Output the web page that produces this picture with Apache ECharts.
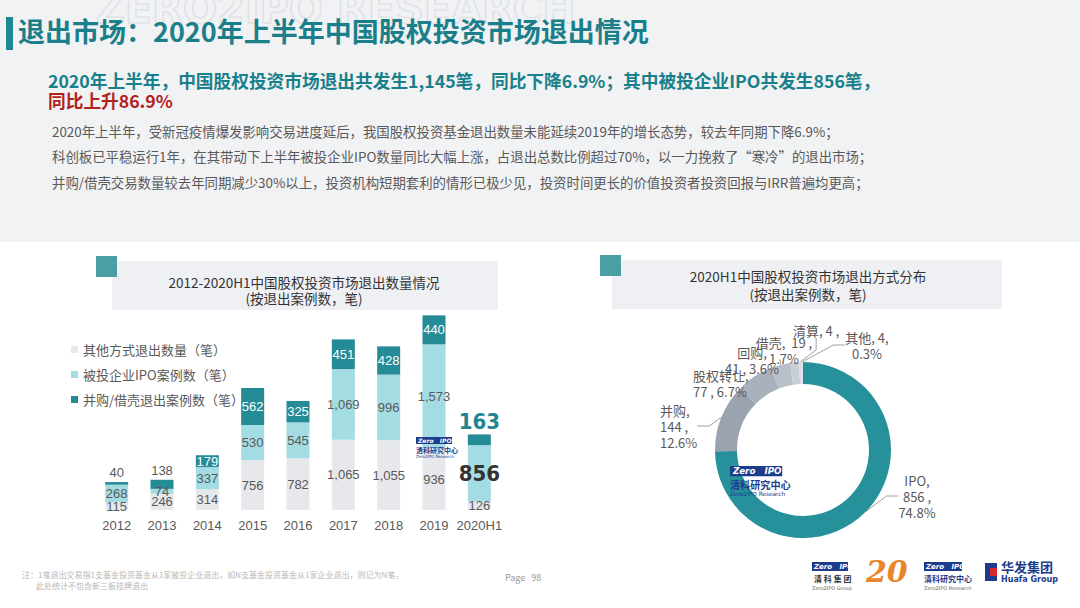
<!DOCTYPE html>
<html><head><meta charset="utf-8">
<script src="https://cdn.jsdelivr.net/npm/echarts@6/dist/echarts.min.js"></script>
<style>html,body{margin:0;padding:0;background:#fff}#c{width:1080px;height:608px}</style>
</head><body><div id="c"></div>
<script>
const categories = ['2012','2013','2014','2015','2016','2017','2018','2019','2020H1'];
const otherExits = [115,246,314,756,782,1065,1055,936,126];
const ipoExits = [268,74,337,530,545,1069,996,1573,856];
const maExits = [40,138,179,562,325,451,428,440,163];
const seriesNames = ['其他方式退出数量（笔）','被投企业IPO案例数（笔）','并购/借壳退出案例数（笔）'];
const pieNames = ['IPO','并购','股权转让','回购','借壳','清算','其他'];
const pieValues = [856,144,77,41,19,4,4];

const CJK = "'Noto Sans CJK SC','Microsoft YaHei',sans-serif";
const NUM = "'Liberation Sans',Arial,sans-serif";
const NARROW = "'Liberation Sans Narrow','DejaVu Sans Condensed',sans-serif";
const TEAL = '#258b96';
const pieColors = ['#26909b','#9aa3af','#a9b1bc','#b8bfc9','#c8ced6','#d6dbe1','#dde1e6'];

const total = pieValues.reduce((a,b)=>a+b,0);
const pct = v => (v/total*100).toFixed(1) + '%';
const fmt = v => v.toLocaleString('en-US');
const pieLabelText = [
  (n,v)=>`${n},\n${v} ,\n${pct(v)}`,
  (n,v)=>`${n},\n${v} ,\n${pct(v)}`,
  (n,v)=>`${n},\n${v} , ${pct(v)}`,
  (n,v)=>`${n},\n${v} , ${pct(v)}`,
  (n,v)=>`${n},  ${v} ,\n${pct(v)}`,
  (n,v)=>`${n}, ${v} ,`,
  (n,v)=>`${n}, ${v},\n${pct(v)}`
];
// label placement (text anchor x, top y, alignment) for the donut's crowded labels
const pieLabelPlace = [
  [917,472,'center'],
  [660,402,'left'],
  [693,367,'left'],
  [752,344,'center'],
  [784,334,'center'],
  [793,322,'left'],
  [867,329,'center']
];

const otherData = otherExits.map(v=>({value:v}));
const ipoData = ipoExits.map((v,i)=> i===8 ? {value:v,label:{fontSize:22,fontWeight:'bold',color:'#333',fontFamily:NARROW}} : {value:v});
const maData = maExits.map((v,i)=>{
  if(i<2) return {value:v,label:{position:'top',color:'#595959',distance:3}};
  if(i===8) return {value:v,label:{position:'top',fontSize:22,fontWeight:'bold',color:'#1f8591',fontFamily:NARROW,distance:2}};
  return {value:v};
});
const barLabel = (color) => ({show:true,position:'inside',color:color,fontSize:13,fontFamily:NUM,formatter:p=>fmt(p.value)});

function logo(x, y, s, top) {
  const z = top ? 100 : 1;
  return [
    {type:'rect',z:z,shape:{x:x,y:y,width:36*s,height:7*s},style:{fill:'#1d3c8c'}},
    {type:'text',z:z+1,x:x+2*s,y:y,style:{text:'Zero   IPO',font:`italic bold ${6*s}px DejaVu Sans`,fill:'#fff'}},
    {type:'text',z:z,x:x,y:y+9*s,style:{text:'清科研究中心',font:`bold ${7*s}px ${CJK}`,fill:'#1d3c8c'}},
    {type:'text',z:z,x:x,y:y+17*s,style:{text:'Zero2IPO Research',font:`${4*s}px DejaVu Sans`,fill:'#1d3c8c'}}
  ];
}

const chart = echarts.init(document.getElementById('c'), null, {renderer:'svg'});
const option = {
  animation:false,
  backgroundColor:'#ffffff',
  textStyle:{fontFamily:CJK},
  graphic:{elements:[
    {type:'rect',shape:{x:0,y:0,width:1080,height:242},style:{fill:'#f1f2f4'},z:-10},
    {type:'text',left:95,top:-12,style:{text:'ZERO2IPO RESEARCH',font:'bold 40px DejaVu Sans',fill:'rgba(0,0,0,0)',stroke:'#dfe2e6',lineWidth:1.5},z:-9},
    {type:'rect',shape:{x:6,y:17,width:7,height:33},style:{fill:'#1d8792'}},
    {type:'text',left:18,top:17,style:{text:'退出市场：2020年上半年中国股权投资市场退出情况',font:'bold 27px '+CJK,fill:'#1b7f8a'}},
    {type:'text',left:48,top:71,style:{text:'2020年上半年，中国股权投资市场退出共发生1,145笔，同比下降6.9%；其中被投企业IPO共发生856笔，',font:'bold 17.7px '+CJK,fill:'#18808a'}},
    {type:'text',left:48,top:91,style:{text:'同比上升86.9%',font:'bold 17.7px '+CJK,fill:'#b1221d'}},
    {type:'text',left:52,top:124,style:{text:'2020年上半年，受新冠疫情爆发影响交易进度延后，我国股权投资基金退出数量未能延续2019年的增长态势，较去年同期下降6.9%；',font:'13.4px '+CJK,fill:'#595959'}},
    {type:'text',left:52,top:149,style:{text:'科创板已平稳运行1年，在其带动下上半年被投企业IPO数量同比大幅上涨，占退出总数比例超过70%，以一力挽救了“寒冷”的退出市场；',font:'13.4px '+CJK,fill:'#595959'}},
    {type:'text',left:52,top:175,style:{text:'并购/借壳交易数量较去年同期减少30%以上，投资机构短期套利的情形已极少见，投资时间更长的价值投资者投资回报与IRR普遍均更高；',font:'13.4px '+CJK,fill:'#595959'}},
    // left panel
    {type:'rect',shape:{x:112,y:261,width:386,height:49},style:{fill:'#eef0f3'}},
    {type:'rect',shape:{x:96,y:256,width:21,height:21},style:{fill:'#4a9ea4'}},
    {type:'text',x:304,y:282,style:{text:'2012-2020H1中国股权投资市场退出数量情况',font:'13.5px '+CJK,fill:'#333',align:'center',verticalAlign:'middle'}},
    {type:'text',x:304,y:298,style:{text:'(按退出案例数，笔)',font:'13.5px '+CJK,fill:'#333',align:'center',verticalAlign:'middle'}},
    // right panel
    {type:'rect',shape:{x:612,y:260,width:390,height:49},style:{fill:'#eef0f3'}},
    {type:'rect',shape:{x:600,y:255,width:21,height:21},style:{fill:'#4a9ea4'}},
    {type:'text',x:808,y:276,style:{text:'2020H1中国股权投资市场退出方式分布',font:'13.5px '+CJK,fill:'#333',align:'center',verticalAlign:'middle'}},
    {type:'text',x:808,y:294,style:{text:'(按退出案例数，笔)',font:'13.5px '+CJK,fill:'#333',align:'center',verticalAlign:'middle'}},
    // watermark logos
    ...logo(416,437,1,true),
    ...logo(730,466,1.45,true),
    // footer
    {type:'text',left:22,top:570,style:{text:'注：1笔退出交易指1支基金投资基金从1家被投企业退出，如N支基金投资基金从1家企业退出，则记为N笔，',font:'8px '+CJK,fill:'#b8b8b8'}},
    {type:'text',left:36,top:581,style:{text:'此处统计不包含新三板挂牌退出',font:'8px '+CJK,fill:'#b8b8b8'}},
    {type:'text',left:505,top:573,style:{text:'Page   98',font:'9px '+CJK,fill:'#999'}},
    {type:'rect',shape:{x:812,y:562,width:36,height:9},style:{fill:'#1d3c8c'}},
    {type:'text',x:814,y:563,style:{text:'Zero   IPO',font:'italic bold 7px DejaVu Sans',fill:'#fff'}},
    {type:'text',x:814,y:574,style:{text:'清 科 集 团',font:'bold 8px '+CJK,fill:'#333'}},
    {type:'text',x:812,y:585,style:{text:'Zero2IPO Group',font:'5px DejaVu Sans',fill:'#666'}},
    {type:'text',left:866,top:556,style:{text:'20',font:'italic bold 30px DejaVu Serif',fill:'#e8862a'}},
    {type:'rect',shape:{x:924,y:562,width:38,height:9},style:{fill:'#1d3c8c'}},
    {type:'text',x:926,y:563,style:{text:'Zero   IPO',font:'italic bold 7px DejaVu Sans',fill:'#fff'}},
    {type:'text',x:924,y:574,style:{text:'清科研究中心',font:'bold 8px '+CJK,fill:'#1d3c8c'}},
    {type:'text',x:924,y:585,style:{text:'Zero2IPO Research',font:'5px DejaVu Sans',fill:'#666'}},
    {type:'rect',shape:{x:985,y:563,width:12,height:18},style:{fill:'#1d3c8c'}},
    {type:'rect',shape:{x:990,y:568,width:7,height:8},style:{fill:'#d8262d'}},
    {type:'text',left:1001,top:560,style:{text:'华发集团',font:'bold 13px '+CJK,fill:'#1d3c8c'}},
    {type:'text',left:1001,top:575,style:{text:'Huafa Group',font:'bold 8px DejaVu Sans',fill:'#1d3c8c'}}
  ]},
  legend:{
    left:66, top:338, orient:'vertical', itemWidth:7, itemHeight:7, itemGap:12, icon:'rect',
    textStyle:{color:'#595959',fontSize:13,fontFamily:CJK},
    data:seriesNames
  },
  grid:{left:94,top:312,width:408,height:198},
  xAxis:{type:'category',data:categories,axisLine:{show:false},axisTick:{show:false},
    axisLabel:{color:'#595959',fontSize:13,margin:9,interval:0,fontFamily:NUM}},
  yAxis:{type:'value',min:0,max:3000,show:false,splitLine:{show:false}},
  series:[
    {name:seriesNames[0],type:'bar',stack:'a',barWidth:23,data:otherData,itemStyle:{color:'#e6e8ec'},label:barLabel('#595959')},
    {name:seriesNames[1],type:'bar',stack:'a',barWidth:23,data:ipoData,itemStyle:{color:'#a3dce3'},label:barLabel('#595959')},
    {name:seriesNames[2],type:'bar',stack:'a',barWidth:23,data:maData,itemStyle:{color:TEAL},label:barLabel('#ffffff')},
    {type:'pie',center:[803,450],radius:[66,88],startAngle:90,clockwise:true,
      avoidLabelOverlap:false,
      label:{show:true,position:'outside',color:'#595959',fontSize:13,lineHeight:16,fontFamily:CJK,
        formatter:p=>pieLabelText[p.dataIndex](p.name,p.value)},
      labelLine:{show:true,length:10,length2:12,lineStyle:{color:'#a0a0a0',width:1}},
      labelLayout:p=>{
        const q = pieLabelPlace[p.dataIndex];
        return {x:q[0],y:q[1],align:q[2],verticalAlign:'top',hideOverlap:false,moveOverlap:null};
      },
      data:pieNames.map((n,i)=>({name:n,value:pieValues[i],itemStyle:{color:pieColors[i]}}))
    }
  ]
};
chart.setOption(option);
</script></body></html>
